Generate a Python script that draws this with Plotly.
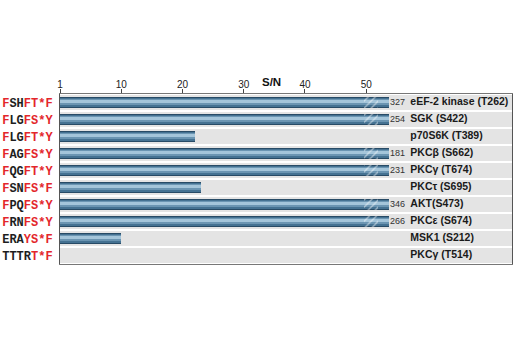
import plotly.graph_objects as go

# ---- data ----
peptides = ["FSHFT*F", "FLGFS*Y", "FLGFT*Y", "FAGFS*Y", "FQGFT*Y",
            "FSNFS*F", "FPQFS*Y", "FRNFS*Y", "ERAYS*F", "TTTRT*F"]
black_part = [(1, 3), (1, 3), (1, 3), (1, 3), (1, 3), (1, 3), (1, 3), (1, 3), (0, 3), (0, 4)]
kinases = ["eEF-2 kinase (T262)", "SGK (S422)", "p70S6K (T389)", "PKCβ (S662)", "PKCγ (T674)",
           "PKCτ (S695)", "AKT(S473)", "PKCε (S674)", "MSK1 (S212)", "PKCγ (T514)"]
sn_values = [327, 254, 22, 181, 231, 23, 346, 266, 10, 0]
tick_vals = [0, 10, 20, 30, 40, 50]
tick_text = ["1", "10", "20", "30", "40", "50"]

CAP = 53.7          # drawn length of off-scale bars
BREAK_START = 49.6
BREAK_LEN = 2.4
XMAX = 73.8
LABEL_NUM_X = 53.9
LABEL_NAME_X = 57.2

RED = "#e3262b"
DARK = "#1e1e1e"
SANS = "Liberation Sans Narrow, Arial Narrow, Liberation Sans, Arial"

def fmt_pep(p, rng):
    a, b = rng
    out = ""
    for i, ch in enumerate(p):
        col = DARK if a <= i < b else RED
        out += f'<span style="color:{col}">{ch}</span>'
    return "<b>" + out + "</b>"

ticklabels = [fmt_pep(p, r) for p, r in zip(peptides, black_part)]
ycat = list(range(len(peptides)))
drawn = [min(v, CAP) for v in sn_values]
broken = [v > CAP for v in sn_values]

fig = go.Figure()
# grey row bands
fig.add_trace(go.Bar(y=ycat, x=[XMAX] * len(ycat), orientation="h", width=0.84,
                     marker=dict(color="#e4e4e4", line_width=0), hoverinfo="skip"))
# bar layers (pseudo gradient)
layers = [("#284b66", 0.68, None), ("#457292", 0.52, None), ("#6b95b2", 0.34, -0.2),
          ("#a4c5da", 0.12, -0.12)]
for col, w, off in layers:
    kw = dict(offset=off) if off is not None else {}
    fig.add_trace(go.Bar(y=ycat, x=drawn, orientation="h", width=w,
                         marker=dict(color=col, line_width=0), hoverinfo="skip", **kw))
# break hatch
fig.add_trace(go.Bar(y=[y for y, b in zip(ycat, broken) if b],
                     x=[BREAK_LEN] * sum(broken),
                     base=[BREAK_START] * sum(broken),
                     orientation="h", width=0.68,
                     marker=dict(color="rgba(0,0,0,0)", line_width=0,
                                 pattern=dict(shape="/", fgcolor="white", size=5,
                                              solidity=0.28, fillmode="overlay")),
                     hoverinfo="skip"))
# value labels for off-scale bars
fig.add_trace(go.Scatter(y=[y for y, b in zip(ycat, broken) if b],
                         x=[LABEL_NUM_X] * sum(broken),
                         text=[str(v) for v, b in zip(sn_values, broken) if b],
                         mode="text", textposition="middle right",
                         textfont=dict(family=SANS, size=9, color="#333"),
                         hoverinfo="skip"))
# kinase names
fig.add_trace(go.Scatter(y=ycat, x=[LABEL_NAME_X] * len(ycat),
                         text=[f"<b>{k}</b>" for k in kinases],
                         mode="text", textposition="middle right",
                         textfont=dict(family=SANS, size=10.5, color="#1a1a1a"),
                         hoverinfo="skip"))

fig.update_layout(
    width=520, height=350, barmode="overlay", showlegend=False,
    margin=dict(l=60, r=8, t=94, b=86, autoexpand=False),
    plot_bgcolor="white", paper_bgcolor="white", bargap=0,
    xaxis=dict(side="top", range=[0, XMAX], tickvals=tick_vals, ticktext=tick_text,
               ticks="outside", ticklen=4, tickcolor="#444", showgrid=False, zeroline=False,
               showline=True, linecolor="#777", linewidth=1, mirror=True,
               automargin=False, ticklabelstandoff=-3,
               tickfont=dict(family="Liberation Sans, Arial", size=10, color="#222")),
    yaxis=dict(tickvals=ycat, ticktext=ticklabels, range=[9.5, -0.5],
               showgrid=False, zeroline=False, showline=True, linecolor="#555",
               linewidth=1, mirror=True, ticks="", ticklabelstandoff=4, automargin=False,
               tickfont=dict(family="Liberation Mono, Courier New, monospace", size=12)),
    annotations=[dict(x=34.6, y=1, xref="x", yref="paper", yanchor="bottom",
                      yshift=4, text="<b>S/N</b>", showarrow=False,
                      font=dict(family=SANS, size=11.5, color="#111"))],
)
fig.write_html("out.html")
